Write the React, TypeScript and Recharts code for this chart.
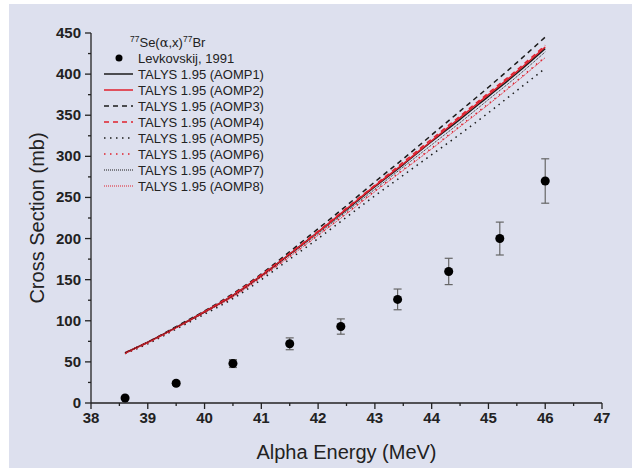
import { ComposedChart, ErrorBar, Line, Scatter, XAxis, YAxis } from 'recharts';

// TALYS 1.95 model curves, one array per optical model potential
const energy = [38.6, 39, 39.5, 40, 40.5, 41, 41.5, 42, 42.5, 43, 43.5, 44, 44.5, 45, 45.5, 46];
const aomp1 = [61, 74, 92, 111, 131, 155, 181, 208, 235, 263, 290, 318, 345, 373, 401, 431];
const aomp2 = [61, 74, 92, 111, 131, 155, 181, 208, 236, 264, 291, 319, 347, 375, 403, 433];
const aomp3 = [61, 74, 93, 112, 133, 157, 184, 212, 240, 269, 297, 326, 355, 384, 414, 445];
const aomp4 = [61, 74, 92, 111, 132, 156, 182, 209, 237, 265, 293, 321, 349, 377, 405, 435];
const aomp5 = [60, 72, 90, 108, 127, 150, 175, 200, 226, 252, 277, 302, 327, 353, 380, 407];
const aomp6 = [60, 73, 91, 110, 129, 153, 178, 204, 231, 258, 284, 310, 337, 364, 392, 421];
const aomp7 = [61, 74, 92, 110, 130, 154, 180, 206, 233, 260, 287, 314, 341, 369, 397, 427];
const aomp8 = [60, 73, 91, 110, 129, 153, 178, 204, 230, 257, 283, 309, 336, 363, 391, 420];

// Levkovskij, 1991
const expEnergy = [38.6, 39.5, 40.5, 41.5, 42.4, 43.4, 44.3, 45.2, 46.0];
const expXs = [6, 24, 48, 72, 93, 126, 160, 200, 270];
const expErr = [0.6, 2.4, 4.8, 7.2, 9.3, 12.6, 16, 20, 27];

const xTicks = [38, 38.5, 39, 39.5, 40, 40.5, 41, 41.5, 42, 42.5, 43, 43.5, 44, 44.5, 45, 45.5, 46, 46.5, 47];
const yTicks = [0, 25, 50, 75, 100, 125, 150, 175, 200, 225, 250, 275, 300, 325, 350, 375, 400, 425, 450];

const curveRows = energy.map((e, i) => ({
  e,
  a1: aomp1[i],
  a2: aomp2[i],
  a3: aomp3[i],
  a4: aomp4[i],
  a5: aomp5[i],
  a6: aomp6[i],
  a7: aomp7[i],
  a8: aomp8[i],
}));
const expRows = expEnergy.map((e, i) => ({ e, xs: expXs[i], err: expErr[i] }));

const BLACK = '#1b1b1b';
const RED = '#e0202c';
const AXIS = '#222';
const FONT = '"Liberation Sans", Arial, sans-serif';

const series = [
  { key: 'a1', name: 'TALYS 1.95 (AOMP1)', color: BLACK, dash: undefined, width: 1.5 },
  { key: 'a2', name: 'TALYS 1.95 (AOMP2)', color: RED, dash: undefined, width: 1.5 },
  { key: 'a3', name: 'TALYS 1.95 (AOMP3)', color: BLACK, dash: '5 4', width: 1.5 },
  { key: 'a4', name: 'TALYS 1.95 (AOMP4)', color: RED, dash: '5 4', width: 1.5 },
  { key: 'a5', name: 'TALYS 1.95 (AOMP5)', color: BLACK, dash: '1.5 4.5', width: 1.5 },
  { key: 'a6', name: 'TALYS 1.95 (AOMP6)', color: RED, dash: '1.5 4.5', width: 1.5 },
  { key: 'a7', name: 'TALYS 1.95 (AOMP7)', color: BLACK, dash: '1 1', width: 1 },
  { key: 'a8', name: 'TALYS 1.95 (AOMP8)', color: RED, dash: '1 1', width: 1 },
];

function XTick(props: any) {
  const { x, y, payload } = props;
  const major = Number.isInteger(payload.value);
  return (
    <g>
      <line x1={x} x2={x} y1={y} y2={y + (major ? 6 : 3)} stroke={AXIS} strokeWidth={1.3} />
      {major && (
        <text x={x} y={y + 20} textAnchor="middle" fontSize={15} fontWeight="bold" fill={AXIS} fontFamily={FONT}>
          {payload.value}
        </text>
      )}
    </g>
  );
}

function YTick(props: any) {
  const { x, y, payload } = props;
  const major = payload.value % 50 === 0;
  return (
    <g>
      <line x1={x - (major ? 6 : 3)} x2={x} y1={y} y2={y} stroke={AXIS} strokeWidth={1.3} />
      {major && (
        <text x={x - 10} y={y + 5} textAnchor="end" fontSize={15} fontWeight="bold" fill={AXIS} fontFamily={FONT}>
          {payload.value}
        </text>
      )}
    </g>
  );
}

function ChartLegend() {
  const rowY = (i: number) => 58 + i * 16;
  return (
    <svg width={200} height={180} style={{ position: 'absolute', left: 0, top: 0, overflow: 'visible' }}>
      <text x={130} y={47} fontSize={13} fill={AXIS} fontFamily={FONT}>
        <tspan fontSize={8.5} dy={-5}>77</tspan>
        <tspan dy={5}>Se(</tspan>
        <tspan fontFamily="DejaVu Serif, serif">α</tspan>
        <tspan>,x)</tspan>
        <tspan fontSize={8.5} dy={-5}>77</tspan>
        <tspan dy={5}>Br</tspan>
      </text>
      <circle cx={119} cy={rowY(0)} r={3.5} fill="#000" />
      <text x={138} y={rowY(0) + 4.5} fontSize={13} fill={AXIS} fontFamily={FONT}>
        Levkovskij, 1991
      </text>
      {series.map((s, i) => (
        <g key={s.key}>
          <line
            x1={104}
            x2={133}
            y1={rowY(i + 1)}
            y2={rowY(i + 1)}
            stroke={s.color}
            strokeWidth={s.width}
            strokeDasharray={s.dash}
          />
          <text x={138} y={rowY(i + 1) + 4.5} fontSize={13} fill={AXIS} fontFamily={FONT}>
            {s.name}
          </text>
        </g>
      ))}
    </svg>
  );
}

export default function App() {
  return (
    <div style={{ position: 'absolute', left: 0, top: 0, width: 632, height: 468, background: '#fff' }}>
      <div style={{ position: 'absolute', left: 9, top: 4, width: 623, height: 464, background: '#dde0ee' }}>
        <ComposedChart
          width={623}
          height={464}
          data={curveRows}
          margin={{ top: 29, right: 30, bottom: 0, left: 0 }}
        >
          <XAxis
            dataKey="e"
            type="number"
            domain={[38, 47]}
            ticks={xTicks}
            interval={0}
            tick={<XTick />}
            tickLine={false}
            tickSize={0}
            tickMargin={0}
            height={65}
            axisLine={{ stroke: AXIS, strokeWidth: 1.3 }}
            allowDataOverflow
            label={{
              value: 'Alpha Energy (MeV)',
              position: 'center',
              dy: 16,
              fontSize: 20,
              fill: AXIS,
              fontFamily: FONT,
            }}
          />
          <YAxis
            type="number"
            domain={[0, 450]}
            ticks={yTicks}
            interval={0}
            tick={<YTick />}
            tickLine={false}
            tickSize={0}
            tickMargin={0}
            width={82}
            axisLine={{ stroke: AXIS, strokeWidth: 1.3 }}
            allowDataOverflow
            label={{
              value: 'Cross Section (mb)',
              angle: -90,
              position: 'center',
              dx: -13,
              fontSize: 20,
              fill: AXIS,
              fontFamily: FONT,
            }}
          />
          {series.map((s) => (
            <Line
              key={s.key}
              type="monotone"
              dataKey={s.key}
              name={s.name}
              stroke={s.color}
              strokeWidth={s.width}
              strokeDasharray={s.dash}
              dot={false}
              activeDot={false}
              isAnimationActive={false}
            />
          ))}
          <Scatter data={expRows} dataKey="xs" fill="#000" isAnimationActive={false}>
            <ErrorBar dataKey="err" direction="y" width={4} stroke="#666" strokeWidth={1.2} isAnimationActive={false} />
          </Scatter>
        </ComposedChart>
      </div>
      <ChartLegend />
    </div>
  );
}
